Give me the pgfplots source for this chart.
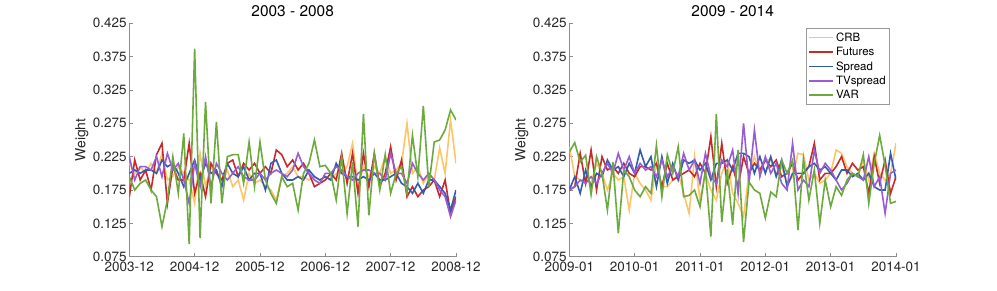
\documentclass[border=0pt]{standalone}
\usepackage{fontspec}
\setmainfont{TeX Gyre Heros}
\usepackage{pgfplots}
\pgfplotsset{compat=1.18}
\usepackage{pgfplotstable}
\definecolor{cCRB}{RGB}{253,196,104}
\definecolor{cFUT}{RGB}{200,42,42}
\definecolor{cSPR}{RGB}{52,92,172}
\definecolor{cTVS}{RGB}{152,92,212}
\definecolor{cVAR}{RGB}{108,170,62}

\pgfplotstableread{
m crb fut spr tvs var
0 .215 .165 .200 .225 .195
1 .200 .220 .205 .190 .175
2 .210 .190 .200 .210 .185
3 .200 .205 .205 .210 .190
4 .215 .175 .205 .205 .175
5 .200 .228 .200 .225 .165
6 .230 .245 .220 .195 .120
7 .190 .155 .210 .230 .160
8 .195 .210 .215 .205 .225
9 .210 .190 .200 .215 .170
10 .200 .190 .180 .190 .260
11 .190 .245 .200 .155 .094
12 .155 .170 .220 .215 .387
13 .230 .200 .190 .180 .103
14 .180 .165 .215 .225 .307
15 .210 .215 .200 .180 .155
16 .200 .200 .205 .215 .277
17 .185 .190 .180 .200 .155
18 .205 .215 .215 .190 .225
19 .180 .220 .200 .200 .228
20 .190 .195 .195 .210 .228
21 .160 .215 .210 .195 .185
22 .200 .205 .190 .190 .247
23 .185 .215 .200 .190 .180
24 .190 .200 .200 .200 .247
25 .180 .210 .175 .190 .190
26 .175 .200 .215 .200 .170
27 .160 .235 .220 .205 .155
28 .195 .228 .200 .200 .195
29 .200 .210 .190 .195 .180
30 .210 .220 .190 .205 .185
31 .195 .205 .195 .230 .145
32 .195 .215 .190 .210 .200
33 .190 .200 .205 .200 .215
34 .195 .180 .195 .190 .250
35 .190 .185 .190 .185 .210
36 .195 .190 .195 .200 .212
37 .190 .200 .190 .200 .200
38 .200 .190 .215 .210 .160
39 .200 .230 .200 .205 .225
40 .210 .185 .195 .195 .140
41 .245 .230 .195 .190 .217
42 .180 .170 .190 .200 .120
43 .210 .230 .195 .205 .289
44 .195 .180 .190 .205 .137
45 .210 .230 .200 .200 .230
46 .200 .180 .190 .200 .175
47 .225 .200 .190 .190 .228
48 .200 .240 .195 .230 .170
49 .205 .190 .200 .200 .200
50 .215 .220 .185 .200 .210
51 .275 .165 .180 .185 .170
52 .200 .180 .170 .215 .257
53 .210 .165 .185 .200 .195
54 .185 .175 .170 .190 .301
55 .200 .180 .190 .200 .180
56 .190 .190 .190 .190 .247
57 .238 .165 .180 .175 .250
58 .200 .190 .170 .165 .265
59 .280 .140 .145 .135 .295
60 .215 .165 .175 .160 .280
}\leftdata

\pgfplotstableread{
m crb fut spr tvs var
0 .240 .175 .175 .175 .232
1 .195 .180 .195 .180 .246
2 .190 .230 .170 .190 .217
3 .190 .185 .205 .185 .227
4 .185 .235 .180 .195 .168
5 .215 .175 .200 .185 .225
6 .200 .225 .195 .200 .200
7 .175 .205 .220 .215 .145
8 .200 .210 .205 .200 .217
9 .190 .200 .210 .230 .110
10 .195 .215 .195 .205 .205
11 .145 .200 .215 .225 .195
12 .200 .195 .200 .200 .175
13 .185 .210 .235 .215 .165
14 .175 .210 .210 .205 .180
15 .160 .205 .225 .210 .170
16 .215 .215 .180 .195 .242
17 .180 .180 .225 .220 .165
18 .180 .215 .185 .195 .228
19 .190 .190 .215 .210 .200
20 .200 .195 .190 .195 .240
21 .170 .200 .220 .230 .165
22 .140 .205 .215 .205 .167
23 .225 .195 .220 .220 .175
24 .160 .215 .205 .185 .150
25 .200 .200 .215 .230 .205
26 .175 .255 .190 .195 .105
27 .160 .180 .215 .185 .289
28 .200 .245 .215 .220 .127
29 .220 .185 .220 .210 .207
30 .170 .210 .205 .235 .123
31 .155 .180 .230 .170 .235
32 .135 .225 .230 .275 .097
33 .200 .200 .225 .185 .187
34 .225 .215 .200 .265 .175
35 .200 .205 .225 .195 .170
36 .220 .220 .200 .225 .133
37 .220 .210 .225 .200 .172
38 .200 .220 .195 .215 .165
39 .210 .195 .220 .185 .220
40 .185 .200 .180 .175 .200
41 .195 .215 .200 .245 .220
42 .230 .190 .200 .175 .115
43 .228 .200 .200 .190 .222
44 .190 .210 .210 .180 .160
45 .200 .245 .215 .235 .205
46 .185 .190 .205 .200 .125
47 .190 .200 .210 .215 .190
48 .200 .200 .200 .205 .150
49 .235 .210 .190 .190 .180
50 .230 .225 .205 .175 .167
51 .210 .200 .205 .185 .190
52 .200 .215 .195 .200 .200
53 .195 .205 .200 .195 .195
54 .220 .210 .190 .190 .228
55 .190 .170 .200 .225 .155
56 .230 .225 .180 .180 .215
57 .200 .185 .175 .195 .257
58 .190 .220 .175 .140 .212
59 .200 .170 .230 .200 .155
60 .245 .195 .190 .205 .158
}\rightdata

\pgfplotsset{
  panel/.style={
    scale only axis, width=326.7bp, height=233.4bp, anchor=south west,
    xmin=0, xmax=60, ymin=0.075, ymax=0.425,
    axis x line*=bottom, axis y line*=left,
    axis line style={draw=black!45, line width=0.6bp},
    tick align=inside, major tick length=3.5bp,
    tick style={draw=black!45, line width=0.6bp},
    xtick={0,12,24,36,48,60},
    ytick={0.075,0.125,0.175,0.225,0.275,0.325,0.375,0.425},
    yticklabels={0.075,0.125,0.175,0.225,0.275,0.325,0.375,0.425},
    ticklabel style={font=\fontsize{13.5}{15}\selectfont, text=black!85},
    yticklabel style={inner sep=0pt, xshift=-2.5bp},
    xticklabel style={inner sep=0pt, yshift=-5.5bp},
    /pgf/number format/assume math mode=true,
    ylabel={Weight},
    ylabel style={font=\fontsize{14}{15}\selectfont, text=black!85, at={(axis description cs:-0.1457,0.5)}, anchor=center},
    title style={font=\fontsize{15.5}{17}\selectfont, text=black, at={(axis description cs:0.5,1)}, anchor=base, yshift=0.5bp},
    every axis plot post/.append style={line width=1.6bp},
    every axis plot/.append style={no markers},
  }
}

\begin{document}
\begin{tikzpicture}
\path[use as bounding box] (0,0) rectangle (997bp,291bp);
\begin{axis}[panel, at={(129.3bp,34.3bp)}, title={2003 - 2008},
  xticklabels={2003-12,2004-12,2005-12,2006-12,2007-12,2008-12}]
\addplot[cCRB] table[x=m,y=crb] {\leftdata};
\addplot[cFUT] table[x=m,y=fut] {\leftdata};
\addplot[cSPR] table[x=m,y=spr] {\leftdata};
\addplot[cTVS] table[x=m,y=tvs] {\leftdata};
\addplot[cVAR] table[x=m,y=var] {\leftdata};
\end{axis}
\begin{axis}[panel, at={(569.3bp,34.3bp)}, title={2009 - 2014},
  xticklabels={2009-01,2010-01,2011-01,2012-01,2013-01,2014-01},
  legend style={at={(axis description cs:1,1)}, anchor=north east, xshift=-6bp, yshift=-5bp,
    draw=black!40, line width=0.6bp, font=\fontsize{11.5}{14}\selectfont, inner sep=2bp, row sep=0.5bp},
  legend cell align=left,
  legend image code/.code={\draw[#1, line width=1.6bp] (0bp,0bp) -- (24bp,0bp);}]
\addplot[cCRB] table[x=m,y=crb] {\rightdata};
\addplot[cFUT] table[x=m,y=fut] {\rightdata};
\addplot[cSPR] table[x=m,y=spr] {\rightdata};
\addplot[cTVS] table[x=m,y=tvs] {\rightdata};
\addplot[cVAR] table[x=m,y=var] {\rightdata};
\legend{CRB,Futures,Spread,TVspread,VAR}
\end{axis}
\end{tikzpicture}
\end{document}
